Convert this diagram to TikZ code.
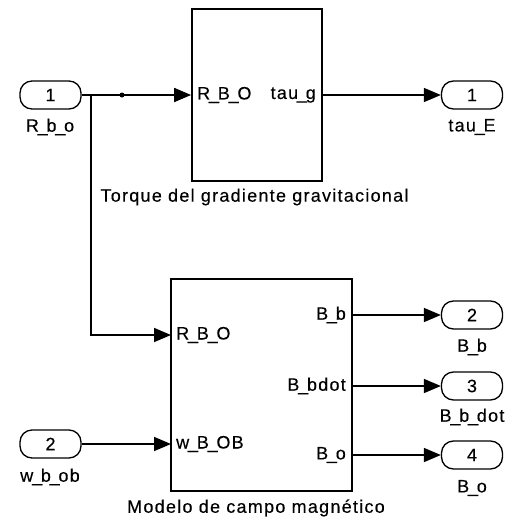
\documentclass[tikz,border=0pt]{standalone}
\usepackage{fontspec}
\setmainfont{Liberation Sans}[LetterSpace=7,FakeBold=0.3]
\usetikzlibrary{arrows.meta,calc}
\newcommand\us{\kern-1.2pt\_\kern-1.2pt}
\tikzset{
  wire/.style={line width=1.7pt, -{Triangle[length=17pt,width=14pt]}},
  blk/.style={draw, line width=1.7pt, rectangle, inner sep=0pt},
  port/.style={draw, line width=1.3pt, rounded corners=12pt, minimum width=61pt, minimum height=28pt, inner sep=0pt, font=\fontsize{18}{21}\selectfont},
  lbl/.style={inner sep=0pt, font=\fontsize{18}{21}\selectfont},
}
\begin{document}
\begin{tikzpicture}[x=1pt,y=-1pt]
\useasboundingbox (0,0) rectangle (514,522);
% blocks
\node[blk, minimum width=130pt, minimum height=172pt] (top) at (257,95) {};
\node[blk, minimum width=181pt, minimum height=212pt] (bot) at (261.5,385) {};
% inports
\node[port] (in1) at (50.5,95) {1};
\node[lbl] (in1l) at (50,127) {R\us b\us o};
\node[port] (in2) at (50.5,444) {2};
\node[lbl] (in2l) at (50,477) {w\us b\us ob};
% outports
\node[port] (out1) at (472,95) {1};
\node[lbl] (out1l) at (472,127) {tau\us E};
\node[port] (out2) at (472,315) {2};
\node[lbl] (out2l) at (472,347) {B\us b};
\node[port] (out3) at (472,386) {3};
\node[lbl] (out3l) at (472,417) {B\us b\us dot};
\node[port] (out4) at (472,455) {4};
\node[lbl] (out4l) at (472,488) {B\us o};
% block port labels
\node[lbl, anchor=west] (tR) at (197,95) {R\us B\us O};
\node[lbl, anchor=east] (tT) at (316,95) {tau\us g};
\node[lbl, anchor=west] (bR) at (176,335) {R\us B\us O};
\node[lbl, anchor=west] (bW) at (176,444) {w\us B\us OB};
\node[lbl, anchor=east] (bB) at (346,315) {B\us b};
\node[lbl, anchor=east] (bBd) at (346,386) {B\us bdot};
\node[lbl, anchor=east] (bBo) at (346,455) {B\us o};
% block names
\node[lbl] (topname) at (254.5,197) {Torque del gradiente gravitacional};
\node[lbl] (botname) at (256,508) {Modelo de campo magnético};
% coordinates
\coordinate (br) at (91,95);
\coordinate (jn) at (122,95);
\coordinate (botR) at (171,335);
\coordinate (botW) at (171,444);
% connectors
\draw[wire] (in1.east) -- (top.west);
\fill (jn) circle (2.5pt);
\draw[wire] (br) |- (botR);
\draw[wire] (in2.east) -- (botW);
\draw[wire] (top.east) -- (out1.west);
\draw[wire] (bot.east |- out2.west) -- (out2.west);
\draw[wire] (bot.east |- out3.west) -- (out3.west);
\draw[wire] (bot.east |- out4.west) -- (out4.west);
\end{tikzpicture}
\end{document}
